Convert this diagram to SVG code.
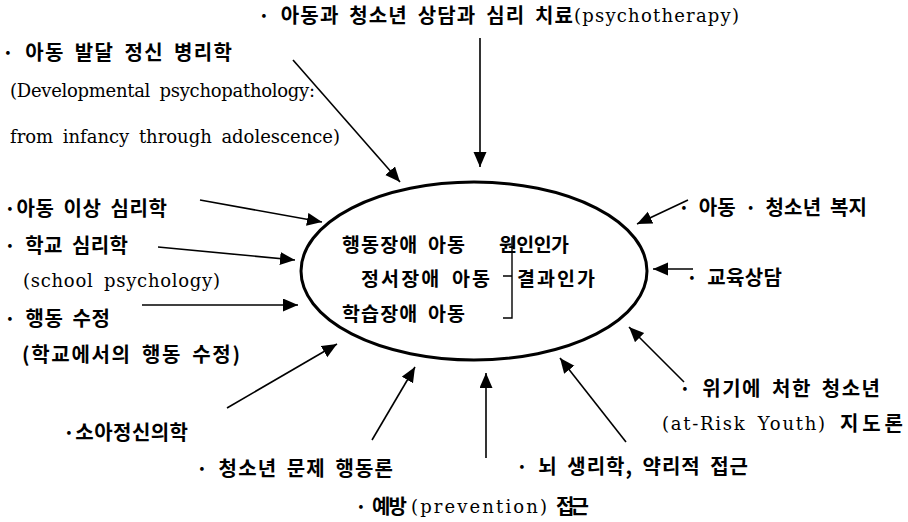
<svg xmlns="http://www.w3.org/2000/svg" width="908" height="522" viewBox="0 0 908 522">
  <defs>
    <marker id="head" markerUnits="userSpaceOnUse" markerWidth="16" markerHeight="14" refX="15" refY="6.5" orient="auto">
      <path d="M0,0 L15,6.5 L0,13 z" fill="#000"/>
    </marker>
    <style>
      text { font-family: "Noto Sans CJK KR", "Noto Sans", sans-serif; font-size: 20px; font-weight: 700; fill: #000; word-spacing: 4px; }
      .in { font-size: 19.5px; }
      .lat { font-family: "DejaVu Serif", "Liberation Serif", serif; font-size: 18px; font-weight: 400; }
      .arrow { stroke: #000; stroke-width: 1.6; fill: none; marker-end: url(#head); }
      .hub { stroke: #000; stroke-width: 3; fill: none; }
      .bracket { stroke: #000; stroke-width: 1.4; fill: none; }
    </style>
  </defs>
  <rect width="908" height="522" fill="#fff"/>

  <!-- central ellipse with the three groups of children -->
  <g id="center">
    <ellipse class="hub" cx="474" cy="271" rx="173" ry="89"/>
    <text class="in" x="342" y="252" word-spacing="5" textLength="123" lengthAdjust="spacing">행동장애 아동</text>
    <text class="in" x="361" y="286" word-spacing="8" textLength="129" lengthAdjust="spacing">정서장애 아동</text>
    <text class="in" x="342" y="321" word-spacing="5" textLength="123" lengthAdjust="spacing">학습장애 아동</text>
    <text class="in" x="499" y="252" textLength="70" lengthAdjust="spacing">원인인가</text>
    <text class="in" x="517" y="286" textLength="78" lengthAdjust="spacing">결과인가</text>
    <path class="bracket" d="M503,318 H512 V237 M503,276 H512"/>
  </g>

  <!-- surrounding fields -->
  <g id="psychotherapy">
    <text x="258" y="23" textLength="315" lengthAdjust="spacing">· 아동과 청소년 상담과 심리 치료</text>
    <text class="lat" x="574" y="22" textLength="165" lengthAdjust="spacing">(psychotherapy)</text>
  </g>
  <g id="developmental">
    <text x="2" y="60" textLength="230" lengthAdjust="spacing">· 아동 발달 정신 병리학</text>
    <text class="lat" x="10" y="97" textLength="305" lengthAdjust="spacing">(Developmental psychopathology:</text>
    <text class="lat" x="10" y="143" textLength="330" lengthAdjust="spacing">from infancy through adolescence)</text>
  </g>
  <g id="abnormal">
    <text x="4" y="216" textLength="163" lengthAdjust="spacing">·아동 이상 심리학</text>
  </g>
  <g id="school">
    <text x="4" y="253" textLength="124" lengthAdjust="spacing">· 학교 심리학</text>
    <text class="lat" x="23" y="287" textLength="197" lengthAdjust="spacing">(school psychology)</text>
  </g>
  <g id="behavior-mod">
    <text x="4" y="326" textLength="106" lengthAdjust="spacing">· 행동 수정</text>
    <text x="22" y="362" word-spacing="6" textLength="218" lengthAdjust="spacing">(학교에서의 행동 수정)</text>
  </g>
  <g id="psychiatry">
    <text x="63" y="440" textLength="125" lengthAdjust="spacing">·소아정신의학</text>
  </g>
  <g id="problem-behavior">
    <text x="196" y="476" textLength="197" lengthAdjust="spacing">· 청소년 문제 행동론</text>
  </g>
  <g id="prevention">
    <text x="355" y="514" word-spacing="0" textLength="52" lengthAdjust="spacing">· 예방</text>
    <text class="lat" x="411" y="513" textLength="136" lengthAdjust="spacing">(prevention)</text>
    <text x="556" y="514" textLength="33" lengthAdjust="spacing">접근</text>
  </g>
  <g id="brain">
    <text x="516" y="474" textLength="232" lengthAdjust="spacing">· 뇌 생리학, 약리적 접근</text>
  </g>
  <g id="at-risk">
    <text x="679" y="396" textLength="201" lengthAdjust="spacing">· 위기에 처한 청소년</text>
    <text class="lat" x="662" y="430" textLength="163" lengthAdjust="spacing">(at-Risk Youth)</text>
    <text x="840" y="431" textLength="63" lengthAdjust="spacing">지도론</text>
  </g>
  <g id="counseling">
    <text x="686" y="285" word-spacing="0" textLength="96" lengthAdjust="spacing">· 교육상담</text>
  </g>
  <g id="welfare">
    <text x="678" y="215" textLength="189" lengthAdjust="spacing">· 아동 · 청소년 복지</text>
  </g>

  <!-- arrows pointing into the ellipse -->
  <g id="connectors">
    <line class="arrow" x1="480" y1="38" x2="480" y2="167"/>
    <line class="arrow" x1="293" y1="60" x2="400" y2="182"/>
    <line class="arrow" x1="200" y1="200" x2="322" y2="222"/>
    <line class="arrow" x1="158" y1="247" x2="295" y2="260"/>
    <line class="arrow" x1="142" y1="305" x2="298" y2="305"/>
    <line class="arrow" x1="227" y1="408" x2="337" y2="344"/>
    <line class="arrow" x1="372" y1="440" x2="415" y2="367"/>
    <line class="arrow" x1="486" y1="458" x2="486" y2="373"/>
    <line class="arrow" x1="626" y1="442" x2="560" y2="358"/>
    <line class="arrow" x1="684" y1="382" x2="629" y2="327"/>
    <line class="arrow" x1="693" y1="269" x2="653" y2="269"/>
    <line class="arrow" x1="688" y1="200" x2="637" y2="224"/>
  </g>
</svg>
